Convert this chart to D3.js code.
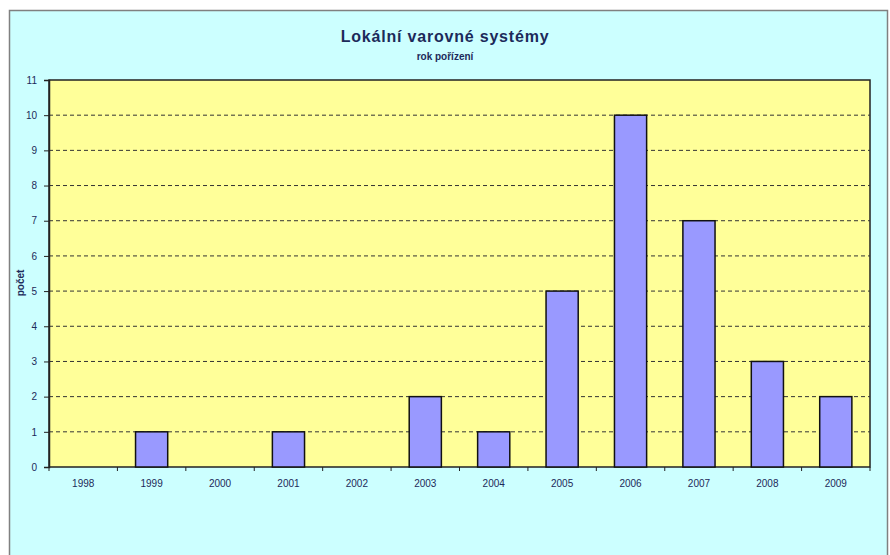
<!DOCTYPE html>
<html>
<head>
<meta charset="utf-8">
<script src="https://cdn.jsdelivr.net/npm/d3@7"></script>
<style>
body{margin:0;background:#fff}
svg{display:block}
text{font-family:Arial,"Liberation Sans",sans-serif}
</style>
</head>
<body>
<svg width="890" height="555"></svg>
<script>
// data
const years=["1998","1999","2000","2001","2002","2003","2004","2005","2006","2007","2008","2009"]
const counts=[0,1,0,1,0,2,1,5,10,7,3,2]
const yTicks=[0,1,2,3,4,5,6,7,8,9,10,11]

const svg=d3.select("svg")
const ink="#1c2a5a"

// chart area
svg.append("rect").attr("x",9.5).attr("y",10.5).attr("width",878).attr("height",560)
.attr("fill","#ccffff").attr("stroke","#808080").attr("stroke-width",1.5)

const pl=49,pr=870,pt=80,pb=467
const x=d3.scaleBand().domain(years).range([pl,pr]).paddingInner(0.53).paddingOuter(0.265)
const y=d3.scaleLinear().domain([0,11]).range([pb,pt])

// plot area
svg.append("rect").attr("x",pl).attr("y",pt).attr("width",pr-pl).attr("height",pb-pt)
.attr("fill","#ffff99").attr("stroke","#222").attr("stroke-width",1.5)

// grid
svg.append("g").selectAll("line").data(yTicks.filter(d=>d>0&&d<11)).join("line")
.attr("x1",pl).attr("x2",pr).attr("y1",d=>y(d)).attr("y2",d=>y(d))
.attr("stroke","#333").attr("stroke-width",1).attr("stroke-dasharray","4,3")

// bars
svg.append("g").selectAll("rect").data(years.map((d,i)=>({yr:d,v:counts[i]})).filter(d=>d.v>0)).join("rect")
.attr("x",d=>x(d.yr)).attr("width",x.bandwidth())
.attr("y",d=>y(d.v)).attr("height",d=>pb-y(d.v))
.attr("fill","#9999ff").attr("stroke","#111").attr("stroke-width",1.5)

// y axis
const ya=svg.append("g").attr("transform",`translate(${pl},0)`)
.call(d3.axisLeft(y).tickValues(yTicks).tickSize(5).tickPadding(7))
ya.select(".domain").attr("stroke","#222").attr("stroke-width",1.5)
ya.selectAll(".tick line").attr("stroke","#222")
ya.selectAll("text").attr("fill",ink).attr("font-size",10).attr("font-family","Arial,'Liberation Sans',sans-serif")

// x axis
const xa=svg.append("g").attr("transform",`translate(0,${pb})`)
.call(d3.axisBottom(x).tickSize(0).tickPadding(13))
xa.select(".domain").remove()
xa.selectAll("text").attr("fill",ink).attr("font-size",10).attr("font-family","Arial,'Liberation Sans',sans-serif")
// tick marks between categories
const step=x.step()
svg.append("g").selectAll("line").data(d3.range(years.length+1)).join("line")
.attr("x1",i=>pl+i*step).attr("x2",i=>pl+i*step)
.attr("y1",pb).attr("y2",pb+4).attr("stroke","#222")

// titles
svg.append("text").attr("x",445).attr("y",42).attr("text-anchor","middle")
.attr("font-size",16).attr("font-weight","bold").attr("letter-spacing",0.8).attr("fill",ink)
.text("Lokální varovné systémy")
svg.append("text").attr("x",445).attr("y",60).attr("text-anchor","middle")
.attr("font-size",10).attr("font-weight","bold").attr("fill",ink)
.text("rok pořízení")
svg.append("text").attr("transform","translate(24,283) rotate(-90)").attr("text-anchor","middle")
.attr("font-size",10).attr("font-weight","bold").attr("fill",ink)
.text("počet")
</script>
</body>
</html>
